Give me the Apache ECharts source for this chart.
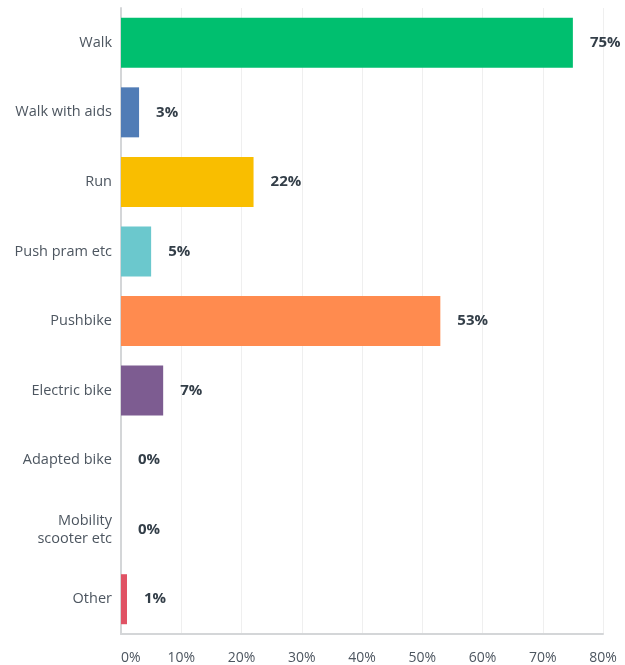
<!DOCTYPE html>
<html>
<head>
<meta charset="utf-8">
<style>
  html, body { margin: 0; padding: 0; background: #ffffff; }
  #chart { width: 625px; height: 665px; }
</style>
<script src="https://cdn.jsdelivr.net/npm/echarts@6/dist/echarts.min.js"></script>
</head>
<body>
<div id="chart"></div>
<script>
// Answer options, top to bottom
const categories = [
  'Walk', 'Walk with aids', 'Run', 'Push pram etc', 'Pushbike',
  'Electric bike', 'Adapted bike', 'Mobility\nscooter etc', 'Other'
];
// Share of respondents (%)
const values = [75, 3, 22, 5, 53, 7, 0, 0, 1];
const barColors = [
  '#00bf6f', '#507cb6', '#f9be00', '#6bc8cd', '#ff8b4f',
  '#7d5c91', '#d25f90', '#dbe442', '#e05264'
];
const xTicks = [0, 10, 20, 30, 40, 50, 60, 70, 80];

const FONT = '"Open Sans", "Noto Sans", sans-serif';
const chart = echarts.init(document.getElementById('chart'), null, { renderer: 'canvas' });

chart.setOption({
  animation: false,
  backgroundColor: '#ffffff',
  grid: { left: 121, right: 22, top: 8, bottom: 28, containLabel: false },
  xAxis: {
    type: 'value',
    min: xTicks[0],
    max: xTicks[xTicks.length - 1],
    interval: 10,
    axisLine: { show: true, lineStyle: { color: '#d4d6d8', width: 2 } },
    axisTick: { show: false },
    splitLine: { show: true, lineStyle: { color: '#efefef', width: 1 } },
    axisLabel: {
      formatter: v => v + '%',
      color: '#4d5660',
      fontFamily: FONT,
      fontSize: 14,
      margin: 17,
      alignMinLabel: 'left'
    }
  },
  yAxis: {
    type: 'category',
    data: categories,
    inverse: true,
    axisLine: { show: true, lineStyle: { color: '#d4d6d8', width: 2 } },
    axisTick: { show: false },
    splitLine: { show: false },
    axisLabel: {
      color: '#4d5660',
      fontFamily: FONT,
      fontSize: 14.5,
      margin: 9,
      lineHeight: 18,
      align: 'right'
    }
  },
  series: [{
    type: 'bar',
    data: values.map((v, i) => ({ value: v, itemStyle: { color: barColors[i] } })),
    barWidth: 50,
    label: {
      show: true,
      position: 'right',
      distance: 17,
      formatter: p => p.value + '%',
      color: '#333e48',
      fontFamily: FONT,
      fontSize: 15,
      fontWeight: 'bold'
    }
  }]
});
</script>
</body>
</html>
